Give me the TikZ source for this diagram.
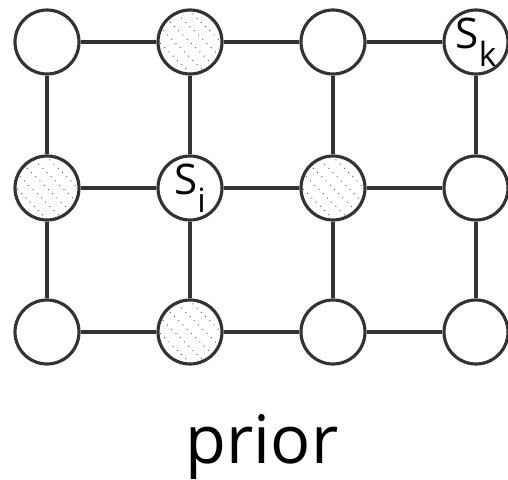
\documentclass[tikz,border=0pt]{standalone}
\usepackage{fontspec}
\setmainfont{Open Sans}
\definecolor{linegray}{HTML}{333333}
\definecolor{dotgray}{HTML}{555555}
\tikzset{
  site/.style={circle, draw=linegray, line width=1.8pt, fill=white,
               minimum size=1.28cm, inner sep=0pt},
  hatched/.style={site, path picture={
      \foreach \d in {-5,...,5}
        \draw[dotgray, line width=0.75pt, line cap=round, dash pattern=on 0pt off 3.4pt]
          ([shift={(\d*15.5-45,-45)}]path picture bounding box.center)
          -- ([shift={(\d*15.5+45,45)}]path picture bounding box.center);
    }},
  link/.style={draw=linegray, line width=1.8pt},
  sitelabel/.style={font=\fontsize{24pt}{24pt}\selectfont}
}
\newcommand{\subsite}[1]{S\raisebox{-10pt}{\fontsize{19pt}{19pt}\selectfont #1}}

\begin{document}
\begin{tikzpicture}[x=0.02cm, y=-0.02cm]
  \useasboundingbox (0,0) rectangle (508,480);
  % grid of sites
  \node[site] (s00) at (47,42) {};
  \node[hatched] (s01) at (190,42) {};
  \node[site] (s02) at (333,42) {};
  \node[site, sitelabel] (s03) at (476,42) {\subsite{k}};
  \node[hatched] (s10) at (47,188) {};
  \node[site, sitelabel] (s11) at (190,188) {\subsite{i}};
  \node[hatched] (s12) at (333,188) {};
  \node[site] (s13) at (476,188) {};
  \node[site] (s20) at (47,332) {};
  \node[hatched] (s21) at (190,332) {};
  \node[site] (s22) at (333,332) {};
  \node[site] (s23) at (476,332) {};
  % links
  \foreach \r in {0,1,2}
    \foreach \c/\n in {0/1,1/2,2/3}
      \draw[link] (s\r\c) -- (s\r\n);
  \foreach \c in {0,1,2,3} {
    \draw[link] (s0\c) -- (s1\c);
    \draw[link] (s1\c) -- (s2\c);
  }
  \node[anchor=base, font=\fontsize{38pt}{38pt}\selectfont] (title) at (262,463) {prior};
\end{tikzpicture}
\end{document}
